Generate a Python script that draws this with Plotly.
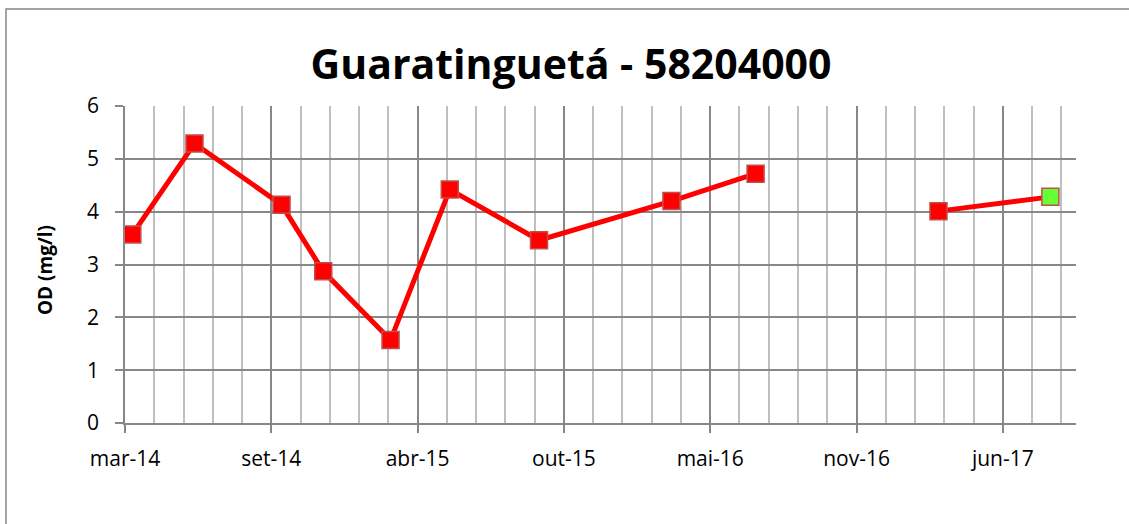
import datetime as dt
import plotly.graph_objects as go

# ---- data ----
sample_dates = ["2014-03-11", "2014-06-04", "2014-10-01", "2014-11-27", "2015-02-27",
                "2015-05-19", "2015-09-18", "2016-03-17", "2016-07-10",
                "2017-03-17", "2017-08-17"]
od_values = [3.57, 5.29, 4.13, 2.87, 1.57, 4.42, 3.46, 4.20, 4.72, 4.01, 4.28]
segments = [(0, 9), (9, 11)]  # the line is broken between these groups

tick_labels = ["mar-14", "set-14", "abr-15", "out-15", "mai-16", "nov-16", "jun-17"]
axis_start = "2014-03-01"
major_days = 200
minor_days = 40
axis_span_days = 1300

title_text = "Guaratinguetá - 58204000"
y_title = "OD (mg/l)"

# ---- build ----
start = dt.date.fromisoformat(axis_start)
tick_vals = [(start + dt.timedelta(days=major_days * i)).isoformat() for i in range(len(tick_labels))]
x_end = (start + dt.timedelta(days=axis_span_days)).isoformat()

W, H = 1129, 524
ML, MR, MT, MB = 125, 53, 106, 101
PW, PH = W - ML - MR, H - MT - MB

LINE_RED = "#FF0000"
BORDER = "#C0504D"
GREEN = "#66FF33"
GRID_MAJOR = "#878787"
GRID_MINOR = "#BFBFBF"
FONT = "Open Sans"

fig = go.Figure()
for a, b in segments:
    xs = sample_dates[a:b]
    ys = od_values[a:b]
    colors = [GREEN if (a + i) == len(od_values) - 1 else LINE_RED for i in range(len(xs))]
    fig.add_trace(go.Scatter(
        x=xs, y=ys, mode="lines+markers",
        line=dict(color=LINE_RED, width=5),
        marker=dict(symbol="square", size=17, color=colors,
                    line=dict(color=BORDER, width=1.5)),
        showlegend=False, hoverinfo="x+y",
    ))

fig.update_layout(
    width=W, height=H,
    margin=dict(l=ML, r=MR, t=MT, b=MB),
    paper_bgcolor="white", plot_bgcolor="white",
    font=dict(family=FONT, color="black"),
    title=dict(text="<b>%s</b>" % title_text, x=571 / W, xanchor="center",
               y=1 - 65 / H, yanchor="middle", yref="container",
               font=dict(family=FONT, size=41, color="black")),
)

fig.update_xaxes(
    type="date", range=[axis_start, x_end],
    tickvals=tick_vals, ticktext=tick_labels,
    tickfont=dict(family=FONT, size=21, color="black"),
    ticks="outside", ticklen=8, tickwidth=1.5, tickcolor=GRID_MAJOR,
    ticklabelstandoff=8,
    showgrid=True, gridcolor=GRID_MAJOR, gridwidth=1.5,
    minor=dict(dtick=minor_days * 86400000, tick0=axis_start,
               showgrid=True, gridcolor=GRID_MINOR, gridwidth=1.5),
    showline=True, linecolor=GRID_MAJOR, linewidth=1.5,
    zeroline=False,
)
fig.update_yaxes(
    range=[0, 6], dtick=1, tick0=0,
    tickfont=dict(family=FONT, size=21, color="black"),
    ticks="outside", ticklen=8, tickwidth=1.5, tickcolor=GRID_MAJOR,
    ticklabelstandoff=12,
    showgrid=True, gridcolor=GRID_MAJOR, gridwidth=1.5,
    showline=True, linecolor=GRID_MAJOR, linewidth=1.5,
    zeroline=False,
)

# y-axis title
fig.add_annotation(
    text="<b>%s</b>" % y_title, textangle=-90,
    xref="paper", yref="paper",
    x=(45 - ML) / PW, y=(H - MB - 270) / PH,
    xanchor="center", yanchor="middle", showarrow=False,
    font=dict(family=FONT, size=19, color="black"),
)

# chart-area border (extends past right and bottom edges)
fig.add_shape(
    type="rect", xref="paper", yref="paper",
    x0=(6 - ML) / PW, x1=(W + 10 - ML) / PW,
    y0=(H - MB - (H + 10)) / PH, y1=(H - MB - 9) / PH,
    line=dict(color=GRID_MAJOR, width=1.5), fillcolor="rgba(0,0,0,0)", layer="below",
)

fig.write_html("out.html",
               config={"displayModeBar": False},
               post_script="document.body.style.margin='0';document.body.style.overflow='hidden';")
